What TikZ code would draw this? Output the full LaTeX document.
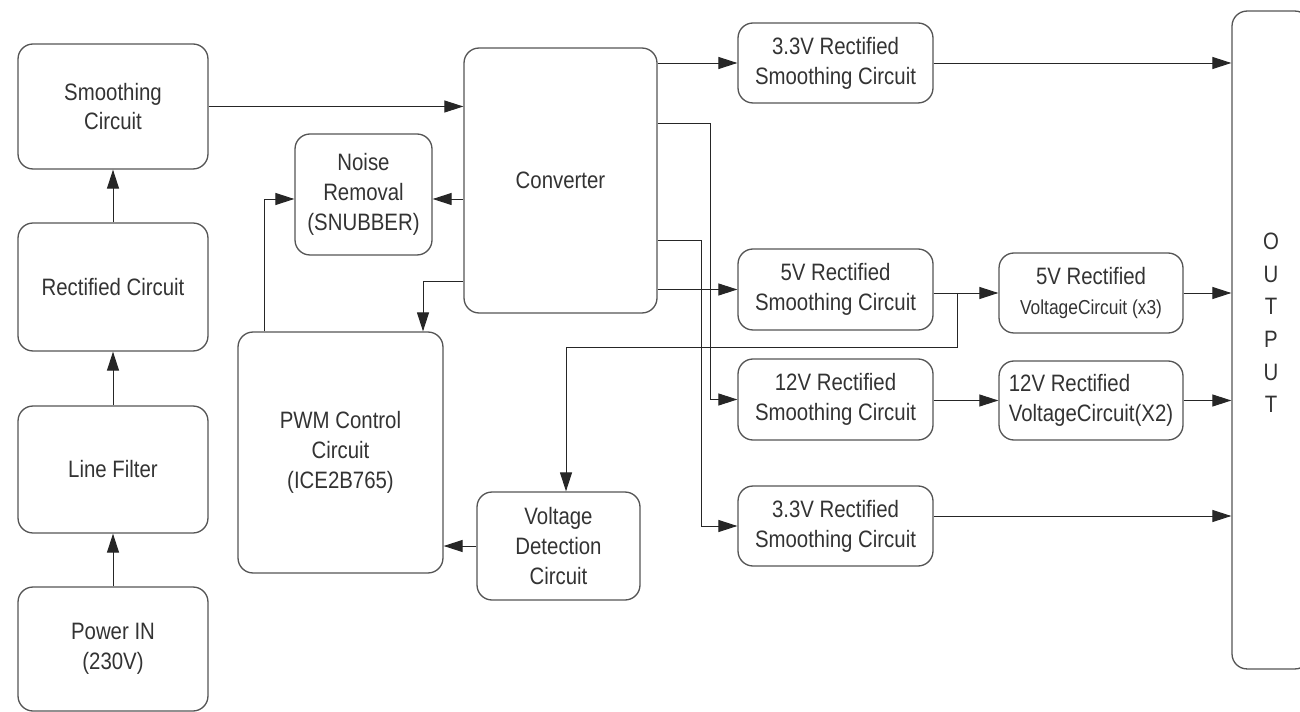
\documentclass[tikz,border=0pt]{standalone}
\usepackage{fontspec}
\setmainfont[FakeStretch=0.86]{Liberation Sans}
\usetikzlibrary{arrows.meta}
\definecolor{boxgray}{HTML}{555555}
\definecolor{txtgray}{HTML}{333333}
\begin{document}
\begin{tikzpicture}[x=0.02cm,y=-0.02cm,>={Triangle[length=0.38cm,width=0.24cm]},
  blk/.style={draw=boxgray,line width=0.75pt,rounded corners=0.3cm,align=center,
    text=txtgray,inner sep=0pt,font=\fontsize{13.5pt}{17pt}\selectfont},
  wire/.style={->,draw=black!85,line width=0.55pt}]
\clip (0,0) rectangle (1300,712);

% input chain
\node[blk,minimum width=3.8cm,minimum height=2.5cm] (smooth) at (113,106.5) {Smoothing\\Circuit};
\node[blk,minimum width=3.8cm,minimum height=2.56cm] (rect) at (113,287) {Rectified Circuit};
\node[blk,minimum width=3.8cm,minimum height=2.54cm] (filter) at (113,469.5) {Line Filter};
\node[blk,minimum width=3.8cm,minimum height=2.48cm] (power) at (113,649) {Power IN\\(230V)};

% converter and control
\node[blk,minimum width=3.86cm,minimum height=5.3cm] (conv) at (560.5,180.5) {Converter};
\node[blk,minimum width=2.74cm,minimum height=2.42cm] (noise) at (363.5,194.5) {Noise\\Removal\\(SNUBBER)};
\node[blk,minimum width=4.1cm,minimum height=4.82cm] (pwm) at (340.5,452.5) {PWM Control\\Circuit\\(ICE2B765)};
\node[blk,minimum width=3.26cm,minimum height=2.16cm] (vd) at (558.5,546) {Voltage\\Detection\\Circuit};

% rectifier outputs
\node[blk,minimum width=3.9cm,minimum height=1.6cm] (top33) at (835.5,63) {3.3V Rectified\\Smoothing Circuit};
\node[blk,minimum width=3.9cm,minimum height=1.62cm] (r5) at (835.5,289.5) {5V Rectified\\Smoothing Circuit};
\node[blk,minimum width=3.9cm,minimum height=1.62cm] (r12) at (835.5,399.5) {12V Rectified\\Smoothing Circuit};
\node[blk,minimum width=3.9cm,minimum height=1.6cm] (b33) at (835.5,526) {3.3V Rectified\\Smoothing Circuit};
\node[blk,minimum width=3.68cm,minimum height=1.6cm] (v5) at (1091,293) {5V Rectified\\{\fontsize{11.5pt}{15pt}\selectfont VoltageCircuit (x3)}};
\node[blk,minimum width=3.68cm,minimum height=1.58cm,align=left] (v12) at (1091,400.5) {12V Rectified\\VoltageCircuit(X2)};
\node[blk,minimum width=1.56cm,minimum height=13.16cm,
  label={[align=center,text=txtgray,yshift=0.34cm,font=\fontsize{13.5pt}{18.6pt}\selectfont]center:O\\U\\T\\P\\U\\T}] (out) at (1271,340) {};

\coordinate (jn) at (264,199);
\coordinate (jp) at (423,281);
\coordinate (j12) at (710,123);
\coordinate (j33) at (701,240);
\coordinate (jf) at (957,347);
\coordinate (jv) at (566,347);

\draw[wire] (power) -- (filter);
\draw[wire] (filter) -- (rect);
\draw[wire] (rect) -- (smooth);
\draw[wire] (smooth.east) -- (conv.west |- smooth.east);
\draw[wire] (conv.west |- jn) -- (noise.east |- jn);
\draw[wire] (pwm.north -| jn) -- (jn) -- (noise.west |- jn);
\draw[wire] (conv.west |- jp) -- (jp) -- (pwm.north -| jp);
\draw[wire] (vd.west) -- (vd.west -| pwm.east);

\draw[wire] (conv.east |- top33.west) -- (top33.west);
\draw[wire] (conv.east |- r5.west) -- (r5.west);
\draw[wire] (conv.east |- j12) -- (j12) |- (r12.west);
\draw[wire] (conv.east |- j33) -- (j33) |- (b33.west);

\draw[wire] (r5.east |- v5.west) -- (v5.west);
\draw[wire] (r12.east |- v12.west) -- (v12.west);
\draw[wire] (jf |- v5.west) -- (jf) -- (jv) -- (vd.north -| jv);

\draw[wire] (top33.east) -- (top33.east -| out.west);
\draw[wire] (v5.east) -- (v5.east -| out.west);
\draw[wire] (v12.east) -- (v12.east -| out.west);
\draw[wire] ([yshift=0.2cm]b33.east) -- ([yshift=0.2cm]b33.east -| out.west);
\end{tikzpicture}
\end{document}
